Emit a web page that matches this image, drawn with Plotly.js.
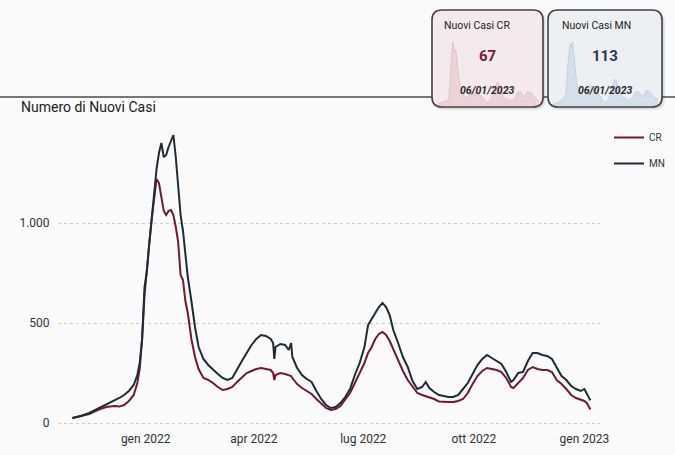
<!DOCTYPE html>
<html>
<head>
<meta charset="utf-8">
<script src="https://cdn.plot.ly/plotly-3.0.1.min.js"></script>
<style>
  html, body { margin: 0; padding: 0; background: #fafafa; }
  #chart { width: 675px; height: 455px; }
</style>
</head>
<body>
<div id="chart"></div>
<script>
// ---- data ----
const dates = [
  '2021-11-01','2021-11-08','2021-11-15','2021-11-22','2021-11-29','2021-12-06','2021-12-10','2021-12-14',
  '2021-12-18','2021-12-22','2021-12-25','2021-12-27','2021-12-29','2021-12-31','2022-01-02','2022-01-04',
  '2022-01-06','2022-01-08','2022-01-10','2022-01-12','2022-01-14','2022-01-16','2022-01-18','2022-01-20',
  '2022-01-22','2022-01-24','2022-01-26','2022-01-28','2022-01-30','2022-02-01','2022-02-03','2022-02-05',
  '2022-02-08','2022-02-11','2022-02-14','2022-02-18','2022-02-22','2022-02-26','2022-03-02','2022-03-06',
  '2022-03-10','2022-03-14','2022-03-18','2022-03-22','2022-03-26','2022-03-30','2022-04-03','2022-04-07',
  '2022-04-11','2022-04-15','2022-04-17','2022-04-18','2022-04-19','2022-04-23','2022-04-27','2022-04-30',
  '2022-05-02','2022-05-03','2022-05-07','2022-05-11','2022-05-15','2022-05-19','2022-05-23','2022-05-27',
  '2022-05-31','2022-06-04','2022-06-08','2022-06-12','2022-06-16','2022-06-20','2022-06-24','2022-06-28',
  '2022-07-02','2022-07-05','2022-07-08','2022-07-11','2022-07-14','2022-07-17','2022-07-20','2022-07-23',
  '2022-07-26','2022-07-30','2022-08-03','2022-08-07','2022-08-11','2022-08-15','2022-08-19','2022-08-22',
  '2022-08-25','2022-08-29','2022-09-02','2022-09-06','2022-09-10','2022-09-14','2022-09-18','2022-09-22',
  '2022-09-26','2022-09-30','2022-10-04','2022-10-08','2022-10-12','2022-10-16','2022-10-20','2022-10-24',
  '2022-10-28','2022-11-01','2022-11-03','2022-11-07','2022-11-11','2022-11-15','2022-11-19','2022-11-23',
  '2022-11-27','2022-12-01','2022-12-05','2022-12-09','2022-12-13','2022-12-17','2022-12-21','2022-12-25',
  '2022-12-29','2023-01-01','2023-01-03','2023-01-06'
];
const casiCR = [
  25,35,45,65,80,85,82,90,
  110,140,200,270,420,640,790,900,
  1020,1130,1220,1200,1120,1060,1040,1060,
  1065,1040,980,905,740,715,610,550,
  420,330,270,225,215,200,180,165,
  170,180,205,230,250,260,270,275,
  270,265,250,215,240,250,245,240,
  235,225,195,175,160,145,120,95,
  75,65,70,85,115,150,200,250,
  300,350,380,420,445,455,440,410,
  370,310,260,215,180,150,140,135,
  128,120,108,105,105,105,110,120,
  150,195,235,260,275,270,265,255,
  225,180,175,200,225,265,280,270,
  265,265,255,215,195,170,140,125,
  115,110,100,67
];
const casiMN = [
  25,35,50,70,90,110,125,140,
  160,190,240,300,420,680,760,900,
  1020,1130,1270,1350,1400,1330,1340,1380,
  1410,1440,1330,1190,1040,960,830,730,
  610,480,380,320,290,265,245,225,
  215,225,270,310,350,390,420,440,
  435,420,400,320,380,395,390,365,
  400,330,275,240,220,205,160,120,
  90,75,80,100,130,170,240,300,
  380,490,520,550,580,600,580,540,
  465,400,330,280,210,170,180,205,
  175,155,140,135,130,130,140,170,
  200,245,290,320,340,325,310,295,
  255,205,215,250,255,310,350,350,
  340,335,320,280,235,215,185,170,
  160,170,145,113
];
const seriesNames = ['CR', 'MN'];
const tickDates = ['2022-01-01','2022-04-01','2022-07-01','2022-10-01','2023-01-01'];
const tickLabels = ['gen 2022','apr 2022','lug 2022','ott 2022','gen 2023'];
const yTicks = [0, 500, 1000];
const lastDate = '06/01/2023';
const lastCR = 67;
const lastMN = 113;

// ---- layout helpers (page is 675x455, margins 0, so paper == page) ----
const W = 675, H = 455;
const px = x => x / W;
const py = y => 1 - y / H;
function roundRect(x0, y0, x1, y1, r) {
  const P = (x, y) => px(x).toFixed(5) + ',' + py(y).toFixed(5);
  return 'M' + P(x0 + r, y0) + ' L' + P(x1 - r, y0) + ' Q' + P(x1, y0) + ' ' + P(x1, y0 + r) +
         ' L' + P(x1, y1 - r) + ' Q' + P(x1, y1) + ' ' + P(x1 - r, y1) +
         ' L' + P(x0 + r, y1) + ' Q' + P(x0, y1) + ' ' + P(x0, y1 - r) +
         ' L' + P(x0, y0 + r) + ' Q' + P(x0, y0) + ' ' + P(x0 + r, y0) + ' Z';
}
function card(x0, y0, x1, y1, fill, border) {
  return [
    {type:'path', xref:'paper', yref:'paper', layer:'below', path: roundRect(x0+1, y0+2, x1+3, y1+3, 10),
     fillcolor:'rgba(0,0,0,0.07)', line:{width:0}},
    {type:'path', xref:'paper', yref:'paper', layer:'below', path: roundRect(x0, y0+1, x1+1.5, y1+1.5, 10),
     fillcolor:'rgba(0,0,0,0.10)', line:{width:0}},
    {type:'path', xref:'paper', yref:'paper', layer:'below', path: roundRect(x0, y0, x1, y1, 10),
     fillcolor: fill, line:{color: border, width: 1.6}}
  ];
}

const colCR = '#6e1c2e';
const colMN = '#1c2c38';
const FONT = 'Roboto, "Liberation Sans", sans-serif';

const traces = [
  {x: dates, y: casiCR, type:'scatter', mode:'lines', name: seriesNames[0], legendgroup:'a',
   line:{color: colCR, width: 2}, xaxis:'x', yaxis:'y'},
  {x: dates, y: casiMN, type:'scatter', mode:'lines', name: seriesNames[1], legendgroup:'b',
   line:{color: colMN, width: 2}, xaxis:'x', yaxis:'y'},
  {x: dates, y: casiCR, type:'scatter', mode:'lines', fill:'tozeroy', showlegend:false, hoverinfo:'skip',
   fillcolor:'rgba(205,130,150,0.22)', line:{color:'rgba(190,110,130,0.30)', width:0.8}, xaxis:'x2', yaxis:'y2'},
  {x: dates, y: casiMN, type:'scatter', mode:'lines', fill:'tozeroy', showlegend:false, hoverinfo:'skip',
   fillcolor:'rgba(125,165,205,0.22)', line:{color:'rgba(110,150,190,0.30)', width:0.8}, xaxis:'x3', yaxis:'y3'}
];

const hidden = {visible:false, fixedrange:true};
const layout = {
  width: W, height: H,
  margin: {l:0, r:0, t:0, b:0, pad:0},
  paper_bgcolor: '#fafafa',
  plot_bgcolor: 'rgba(0,0,0,0)',
  separators: ',.',
  font: {family: FONT, color: '#333', size: 12},
  showlegend: true,
  legend: {x: px(609), y: py(123), xanchor:'left', yanchor:'top', bgcolor:'rgba(0,0,0,0)',
           font:{size:10, color:'#333', family: FONT}, traceorder:'grouped', tracegroupgap: 7},
  xaxis: {domain:[px(58), px(600)], anchor:'y', type:'date', range:['2021-10-20','2023-01-14'],
          showgrid:false, zeroline:false, showline:false, tickmode:'array', tickvals: tickDates,
          ticktext: tickLabels, ticks:'', tickfont:{size:12, color:'#333'}},
  yaxis: {domain:[py(430), py(125)], anchor:'x', range:[-35, 1490], tickmode:'array', tickvals: yTicks,
          tickformat:',d', showgrid:true, gridcolor:'#cccccc', griddash:'dot', gridwidth:1,
          zeroline:false, showline:false, ticks:'outside', ticklen:5, tickcolor:'rgba(0,0,0,0)',
          tickfont:{size:12, color:'#333'}},
  xaxis2: Object.assign({domain:[px(436), px(539)], anchor:'y2', type:'date', range:['2021-11-01','2023-01-06']}, hidden),
  yaxis2: Object.assign({domain:[py(106), py(38)], anchor:'x2', range:[0, 1300]}, hidden),
  xaxis3: Object.assign({domain:[px(552), px(658)], anchor:'y3', type:'date', range:['2021-11-01','2023-01-06']}, hidden),
  yaxis3: Object.assign({domain:[py(106), py(38)], anchor:'x3', range:[0, 1520]}, hidden),
  shapes: [
    {type:'line', xref:'paper', yref:'paper', layer:'below', x0:0, x1:1, y0:py(97), y1:py(97),
     line:{color:'#4a4a4a', width:1.6}}
  ].concat(card(432, 10, 543, 107, '#f4eaed', '#4d3c42'))
   .concat(card(548, 10, 662, 107, '#edf0f3', '#3b4249')),
  annotations: [
    {text:'Numero di Nuovi Casi', xref:'paper', yref:'paper', x:px(19), y:py(107), xanchor:'left', yanchor:'middle',
     showarrow:false, font:{size:14, color:'#222', family: FONT}},
    {text:'Nuovi Casi CR', xref:'paper', yref:'paper', x:px(442), y:py(25), xanchor:'left', yanchor:'middle',
     showarrow:false, font:{size:10.5, color:'#222', family: FONT}},
    {text:'<b>' + lastCR + '</b>', xref:'paper', yref:'paper', x:px(488), y:py(56), xanchor:'center', yanchor:'middle',
     showarrow:false, font:{size:15, color:'#7a2036', family: FONT}},
    {text:'<b><i>' + lastDate + '</i></b>', xref:'paper', yref:'paper', x:px(487), y:py(91), xanchor:'center', yanchor:'middle',
     showarrow:false, font:{size:10.5, color:'#2a2a2a', family: FONT}},
    {text:'Nuovi Casi MN', xref:'paper', yref:'paper', x:px(560), y:py(25), xanchor:'left', yanchor:'middle',
     showarrow:false, font:{size:10.5, color:'#222', family: FONT}},
    {text:'<b>' + lastMN + '</b>', xref:'paper', yref:'paper', x:px(605), y:py(56), xanchor:'center', yanchor:'middle',
     showarrow:false, font:{size:15, color:'#2a3946', family: FONT}},
    {text:'<b><i>' + lastDate + '</i></b>', xref:'paper', yref:'paper', x:px(605), y:py(91), xanchor:'center', yanchor:'middle',
     showarrow:false, font:{size:10.5, color:'#2a2a2a', family: FONT}}
  ]
};

Plotly.newPlot('chart', traces, layout, {displayModeBar:false, staticPlot:true});
</script>
</body>
</html>
